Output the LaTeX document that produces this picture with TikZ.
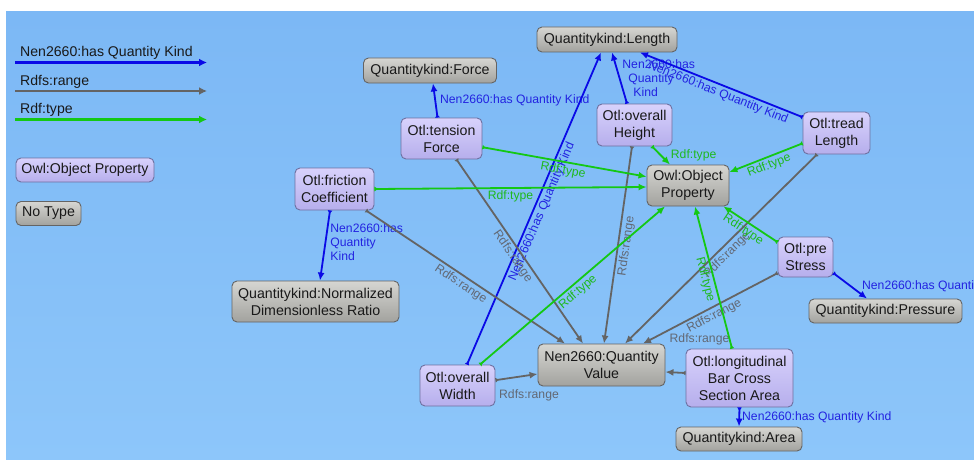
\documentclass[tikz,border=0pt]{standalone}
\usepackage{fontspec}
\setmainfont{Liberation Sans}
\usetikzlibrary{arrows.meta}

\definecolor{bgTop}{RGB}{124,184,245}
\definecolor{bgBot}{RGB}{141,198,250}
\definecolor{propTop}{RGB}{216,210,252}
\definecolor{propBot}{RGB}{182,174,236}
\definecolor{propLine}{RGB}{110,112,160}
\definecolor{kindTop}{RGB}{214,214,210}
\definecolor{kindBot}{RGB}{162,162,158}
\definecolor{kindLine}{RGB}{100,100,100}
\definecolor{hqkLine}{RGB}{10,10,230}
\definecolor{hqkText}{RGB}{35,35,225}
\definecolor{rangeLine}{RGB}{100,100,100}
\definecolor{rangeText}{RGB}{98,104,116}
\definecolor{typeLine}{RGB}{20,200,20}
\definecolor{typeText}{RGB}{30,185,30}
\definecolor{nodeText}{RGB}{25,25,25}

\tikzset{
  box/.style={rounded corners=5pt, line width=0.9pt, text=nodeText, align=center,
    inner sep=0pt, font=\fontsize{14.2}{17}\selectfont},
  propbox/.style={box, draw=propLine, top color=propTop, bottom color=propBot},
  kindbox/.style={box, draw=kindLine, top color=kindTop, bottom color=kindBot},
  link/.style={line width=1.8pt,
    {Latex[length=4pt,width=5pt,reversed]}-{Latex[length=8pt,width=7pt]}},
  qkEdge/.style={link, draw=hqkLine},
  rangeEdge/.style={link, draw=rangeLine},
  typeEdge/.style={link, draw=typeLine},
  lab/.style={font=\fontsize{12.2}{14}\selectfont, inner sep=2pt},
  qkLab/.style={lab, text=hqkText},
  rangeLab/.style={lab, text=rangeText},
  typeLab/.style={lab, text=typeText},
  legText/.style={font=\fontsize{14.1}{17}\selectfont, text=nodeText, inner sep=2pt, anchor=west},
  legLine/.style={line width=2.2pt, -{Latex[length=8pt,width=8pt]}},
}

\begin{document}
\begin{tikzpicture}[x=1pt,y=-1pt]
  \useasboundingbox (0,0) rectangle (974,460);
  \clip (0,0) rectangle (974,460);
  \fill[white] (0,0) rectangle (974,460);
  \shade[top color=bgTop, bottom color=bgBot] (6,12) rectangle (974,460);

  % legend
  \node[legText] (legQk) at (18,53) {Nen2660:has Quantity Kind};
  \coordinate (legQkA) at (15,62.5);
  \coordinate (legQkB) at (207,62.5);
  \draw[legLine, draw=hqkLine] (legQkA) -- (legQkB);
  \node[legText] (legRange) at (18,82) {Rdfs:range};
  \coordinate (legRangeA) at (15,91);
  \coordinate (legRangeB) at (207,91);
  \draw[legLine, draw=rangeLine] (legRangeA) -- (legRangeB);
  \node[legText] (legType) at (18,110) {Rdf:type};
  \coordinate (legTypeA) at (15,119.5);
  \coordinate (legTypeB) at (207,119.5);
  \draw[legLine, draw=typeLine] (legTypeA) -- (legTypeB);
  \node[propbox, minimum width=138pt, minimum height=24pt] (legProp) at (85,170) {Owl:Object Property};
  \node[kindbox, minimum width=65pt, minimum height=24pt] (legNone) at (48.5,213.5) {No Type};

  % classes and properties
  \node[kindbox, minimum width=140pt, minimum height=25pt] (len) at (607,39.5) {Quantitykind:Length};
  \node[kindbox, minimum width=133pt, minimum height=25pt] (force) at (430,70.5) {Quantitykind:Force};
  \node[propbox, minimum width=81pt, minimum height=41pt] (tens) at (441.5,138.5) {Otl:tension\\Force};
  \node[propbox, minimum width=75pt, minimum height=42pt] (hgt) at (634.5,125) {Otl:overall\\Height};
  \node[propbox, minimum width=67pt, minimum height=42pt] (tread) at (836.5,133) {Otl:tread\\Length};
  \node[kindbox, minimum width=82pt, minimum height=41pt] (op) at (688,185.5) {Owl:Object\\Property};
  \node[propbox, minimum width=79pt, minimum height=42pt] (fric) at (334.5,189) {Otl:friction\\Coefficient};
  \node[kindbox, minimum width=167pt, minimum height=41pt] (ndr) at (315.5,301.5) {Quantitykind:Normalized\\Dimensionless Ratio};
  \node[propbox, minimum width=55pt, minimum height=40pt] (pre) at (805.5,257) {Otl:pre\\Stress};
  \node[kindbox, minimum width=153pt, minimum height=24pt] (press) at (885.5,311) {Quantitykind:Pressure};
  \node[kindbox, minimum width=127pt, minimum height=42pt] (qv) at (601.5,365) {Nen2660:Quantity\\Value};
  \node[propbox, minimum width=107pt, minimum height=58pt] (lbcs) at (739.5,378) {Otl:longitudinal\\Bar Cross\\Section Area};
  \node[kindbox, minimum width=126pt, minimum height=24pt] (area) at (739,439) {Quantitykind:Area};
  \node[propbox, minimum width=75pt, minimum height=41pt] (wid) at (457.5,385.5) {Otl:overall\\Width};

  % has Quantity Kind
  \draw[qkEdge] ([xshift=-4pt]tens.north) -- ([xshift=3pt]force.south)
    node[qkLab, pos=.5, right, xshift=2pt] {Nen2660:has Quantity Kind};
  \draw[qkEdge] ([xshift=-7.5pt]hgt.north) -- ([xshift=5pt]len.south)
    node[qkLab, pos=.5, right, align=left] {Nen2660:has\\\hspace*{6pt}Quantity\\\hspace*{11pt}Kind};
  \draw[qkEdge] (tread.155) -- ([xshift=33pt]len.south)
    node[qkLab, pos=.5, below, sloped] {Nen2660:has Quantity Kind};
  \draw[qkEdge] ([xshift=9.5pt]wid.north) -- ([xshift=-6pt]len.south)
    node[qkLab, pos=.5, below, sloped] {Nen2660:has Quantity Kind};
  \draw[qkEdge] ([xshift=-4.5pt]fric.south) -- ([xshift=4.5pt]ndr.north)
    node[qkLab, pos=.45, right, align=left, xshift=2pt] {Nen2660:has\\Quantity\\Kind};
  \draw[qkEdge] (pre.-30) -- ([xshift=-18.5pt]press.north)
    node[qkLab, pos=.5, right, xshift=9pt] {Nen2660:has Quantity Kind};
  \draw[qkEdge] (lbcs.south) -- (area.north)
    node[qkLab, pos=.5, right] {Nen2660:has Quantity Kind};

  % Rdfs:range
  \draw[rangeEdge] ([xshift=15pt]tens.south) -- ([xshift=-18.5pt]qv.north)
    node[rangeLab, pos=.5, below, sloped] {Rdfs:range};
  \draw[rangeEdge] ([xshift=31.5pt]fric.south) -- ([xshift=-36.5pt]qv.north)
    node[rangeLab, pos=.5, below, sloped] {Rdfs:range};
  \draw[rangeEdge] ([xshift=-2.5pt]hgt.south) -- ([xshift=2.5pt]qv.north)
    node[rangeLab, pos=.5, below, sloped] {Rdfs:range};
  \draw[rangeEdge] ([xshift=-19.5pt]tread.south) -- ([xshift=23.5pt]qv.north)
    node[rangeLab, pos=.5, below, sloped] {Rdfs:range};
  \draw[rangeEdge] (pre.210) -- ([xshift=41.5pt]qv.north)
    node[rangeLab, pos=.5, below, sloped] {Rdfs:range};
  \draw[rangeEdge] ([yshift=5pt]lbcs.west) -- ([yshift=-7pt]qv.east)
    node[rangeLab, pos=.5, shift={(24,-33.5)}] {Rdfs:range};
  \draw[rangeEdge] (wid.8) -- (qv.-172)
    node[rangeLab, pos=.5, shift={(12.5,18.5)}] {Rdfs:range};

  % Rdf:type
  \draw[typeEdge] (tens.-12) -- (op.168)
    node[typeLab, pos=.5, below, sloped] {Rdf:type};
  \draw[typeEdge] (fric.east) -- ([yshift=-1.5pt]op.west)
    node[typeLab, pos=.5, below] {Rdf:type};
  \draw[typeEdge] ([xshift=17.5pt]hgt.south) -- ([xshift=-18pt]op.north)
    node[typeLab, pos=.5, right, xshift=7pt] {Rdf:type};
  \draw[typeEdge] (tread.-163) -- (op.18)
    node[typeLab, pos=.5, below, sloped] {Rdf:type};
  \draw[typeEdge] (pre.152) -- ([xshift=-6pt]op.south east)
    node[typeLab, pos=.55, below, sloped] {Rdf:type};
  \draw[typeEdge] ([xshift=-7.5pt]lbcs.north) -- ([xshift=7pt]op.south)
    node[typeLab, pos=.5, below, sloped] {Rdf:type};
  \draw[typeEdge] ([xshift=22.5pt]wid.north) -- ([xshift=-23pt]op.south)
    node[typeLab, pos=.5, below, sloped] {Rdf:type};
\end{tikzpicture}
\end{document}
